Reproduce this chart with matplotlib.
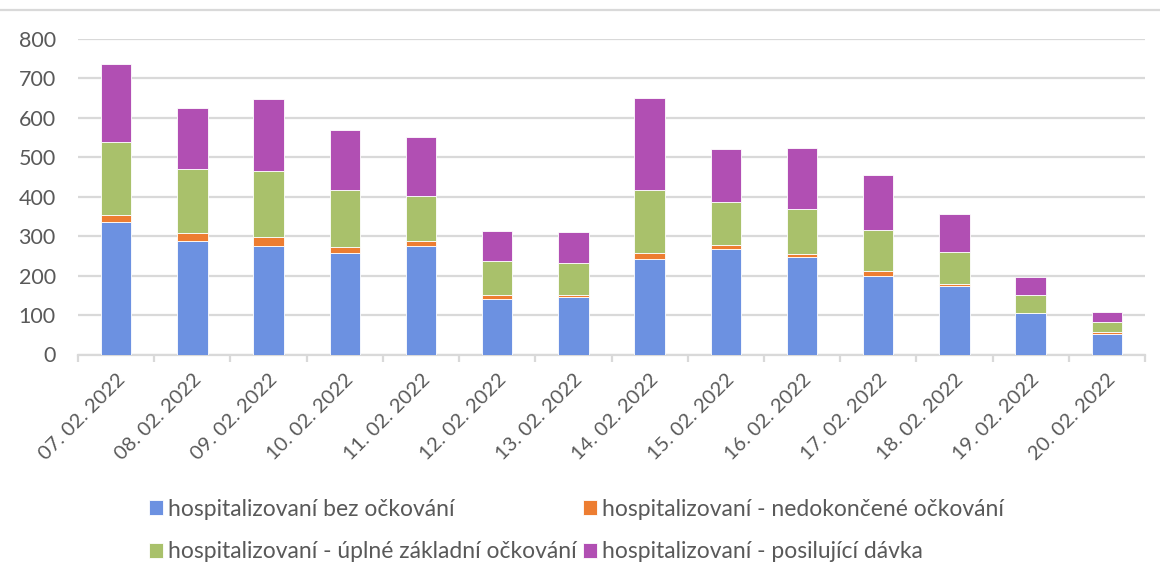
import numpy as np
import matplotlib
matplotlib.use('Agg')
import matplotlib.pyplot as plt
from matplotlib.lines import Line2D

# Data
dates = ['07. 02. 2022', '08. 02. 2022', '09. 02. 2022', '10. 02. 2022', '11. 02. 2022',
         '12. 02. 2022', '13. 02. 2022', '14. 02. 2022', '15. 02. 2022', '16. 02. 2022',
         '17. 02. 2022', '18. 02. 2022', '19. 02. 2022', '20. 02. 2022']
bez_ockovani = [337, 288, 274, 258, 274, 140, 146, 241, 267, 247, 200, 173, 104, 53]
nedokoncene = [16, 19, 23, 14, 13, 10, 4, 17, 10, 8, 12, 7, 1, 4]
uplne_zakladni = [185, 163, 169, 146, 114, 88, 82, 160, 110, 113, 104, 81, 45, 25]
posilujici = [198, 156, 183, 150, 150, 75, 78, 233, 134, 156, 138, 94, 46, 26]

labels = ['hospitalizovaní bez očkování',
          'hospitalizovaní - nedokončené očkování',
          'hospitalizovaní - úplné základní očkování',
          'hospitalizovaní - posilující dávka']
colors = ['#6C91E1', '#ED7D31', '#A9C16B', '#B14FB3']

plt.rcParams['font.family'] = ['Lato', 'DejaVu Sans']
text_color = '#595959'
grid_color = '#d9d9d9'

fig = plt.figure(figsize=(11.6, 5.83), dpi=100)
ax = fig.add_axes([78 / 1160, 1 - 354.5 / 583, (1145 - 78) / 1160, (354.5 - 39) / 583])

x = np.arange(len(dates))
series = [bez_ockovani, nedokoncene, uplne_zakladni, posilujici]
bottom = np.zeros(len(dates))
bars = []
for vals, col, lab in zip(series, colors, labels):
    b = ax.bar(x, vals, width=0.4, bottom=bottom, color=col, edgecolor='white',
               linewidth=0.6, label=lab, zorder=3)
    bars.append(b)
    bottom += np.array(vals)

ax.set_xlim(-0.5, len(dates) - 0.5)
ax.set_ylim(0, 800)
ax.set_yticks(range(0, 801, 100))
ax.yaxis.grid(True, color=grid_color, linewidth=1.6, zorder=0)
ax.set_axisbelow(True)

for s in ['top', 'right', 'left']:
    ax.spines[s].set_visible(False)
ax.spines['bottom'].set_color(grid_color)
ax.spines['bottom'].set_linewidth(1.6)

ax.tick_params(axis='y', length=0, pad=16, labelsize=15.5, labelcolor=text_color)
ax.set_xticks(x)
ax.set_xticklabels(dates, rotation=45, ha='right', rotation_mode='anchor')
ax.tick_params(axis='x', which='major', length=0, pad=12, labelsize=14.5, labelcolor=text_color)
ax.set_xticks(np.arange(-0.5, len(dates), 1), minor=True)
ax.tick_params(axis='x', which='minor', length=5, width=1.6, color=grid_color)

# legend order so rows read blue, orange / green, purple
order = [0, 2, 1, 3]
fig.legend([bars[i] for i in order], [labels[i] for i in order], ncol=2,
           loc='center', bbox_to_anchor=(0.497, 1 - 530.5 / 583), frameon=False,
           fontsize=16.5, labelcolor=text_color, handlelength=0.6, handleheight=0.6,
           handletextpad=0.2, columnspacing=0.3, labelspacing=0.95)

# thin frame line at the top of the chart area
fig.add_artist(Line2D([0, 1], [1 - 10 / 583, 1 - 10 / 583], color=grid_color,
                      linewidth=1.6, transform=fig.transFigure))

fig.savefig('out.png', dpi=100)
